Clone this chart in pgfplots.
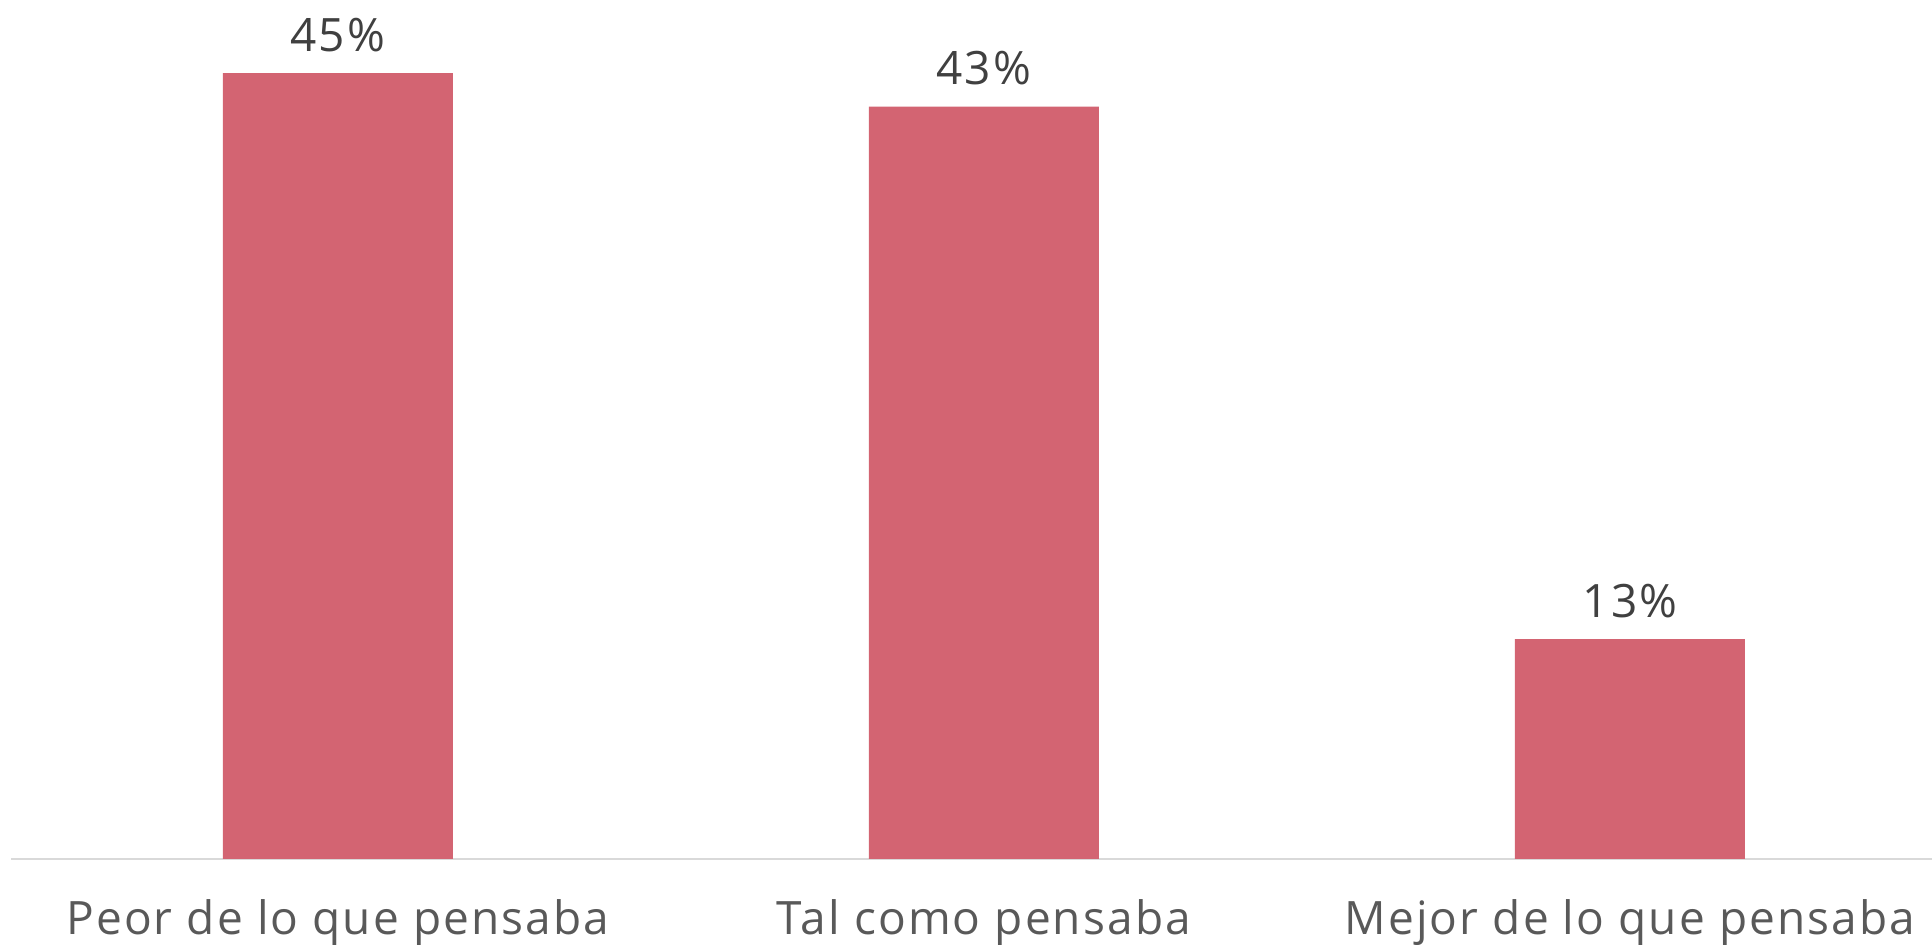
\documentclass[border=0pt]{standalone}
\usepackage{pgfplots}
\pgfplotsset{compat=1.18}
\usepackage{fontspec}
\setmainfont{Open Sans}[LetterSpace=4.6]
\definecolor{barc}{RGB}{211,100,114}
\definecolor{tickc}{RGB}{89,89,89}
\definecolor{labc}{RGB}{64,64,64}
\definecolor{axc}{RGB}{217,217,217}
\pgfplotstableread{
x y label
0 44.7 45\%
1 42.8 43\%
2 12.5 13\%
}\mydata
\begin{document}
\begin{tikzpicture}
\begin{axis}[
  scale only axis, width=960.5pt, height=429.5pt,
  xmin=-0.506, xmax=2.4675, ymin=0, ymax=48.86,
  axis x line=bottom, axis y line=none,
  axis line style={-, draw=axc, line width=1pt},
  xtick={0,1,2},
  xticklabels={Peor de lo que pensaba, Tal como pensaba, Mejor de lo que pensaba},
  major tick length=0pt,
  ytick=\empty,
  xticklabel style={font=\fontsize{23}{28}\selectfont, text=tickc, anchor=base, yshift=-38pt, inner sep=0pt},
  ybar, bar width=115pt,
  nodes near coords, point meta=explicit symbolic,
  nodes near coords style={font=\fontsize{23}{28}\selectfont, text=labc, anchor=base, yshift=11pt, inner sep=0pt},
  clip=false,
]
\addplot[fill=barc, draw=none] table[x=x, y=y, meta=label] {\mydata};
\end{axis}
\pgfresetboundingbox
\useasboundingbox (-5.5pt,-43pt) rectangle (960.5pt,429.5pt);
\end{tikzpicture}
\end{document}
